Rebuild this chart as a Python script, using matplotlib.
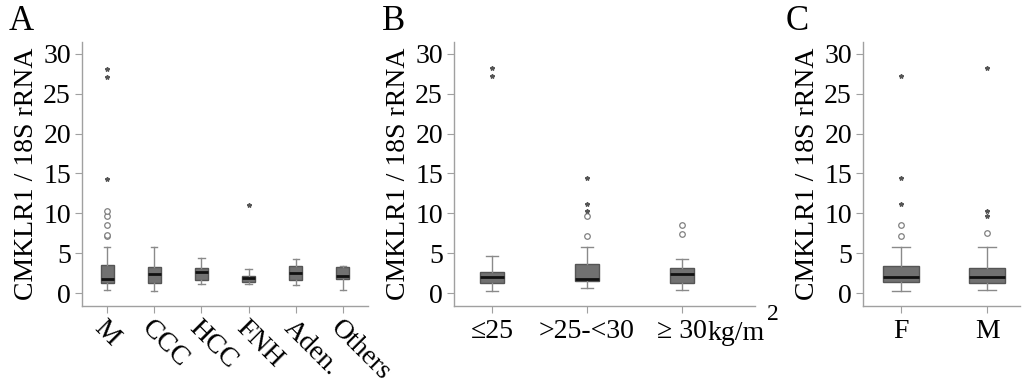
import matplotlib
matplotlib.use("Agg")
import matplotlib.pyplot as plt

plt.rcParams['font.family'] = ['Liberation Serif', 'DejaVu Serif']

# panel A: tumour type
a_labels = ['M', 'CCC', 'HCC', 'FNH', 'Aden.', 'Others']
a_low = [0.38, 0.25, 1.1, 1.1, 1.0, 0.33]
a_q1 = [1.3, 1.2, 1.6, 1.4, 1.6, 1.75]
a_med = [1.8, 2.35, 2.7, 1.85, 2.5, 2.15]
a_q3 = [3.5, 3.3, 3.2, 2.1, 3.4, 3.25]
a_high = [5.75, 5.75, 4.4, 3.0, 4.3, 3.45]
a_circ = [[7.1, 7.3, 8.5, 9.6, 10.3], [], [], [], [], []]
a_star = [[14.3, 27.1, 28.1], [], [], [11.1], [], []]

# panel B: BMI
b_labels = ['≤25', '>25-<30', '≥ 30']
b_low = [0.25, 0.6, 0.37]
b_q1 = [1.3, 1.45, 1.3]
b_med = [2.0, 1.75, 2.4]
b_q3 = [2.7, 3.6, 3.2]
b_high = [4.6, 5.75, 4.3]
b_circ = [[], [7.2, 9.6], [7.4, 8.5]]
b_star = [[27.2, 28.2], [10.3, 11.2, 14.4], []]

# panel C: sex
c_labels = ['F', 'M']
c_low = [0.25, 0.37]
c_q1 = [1.4, 1.25]
c_med = [1.95, 2.05]
c_q3 = [3.4, 3.2]
c_high = [5.75, 5.75]
c_circ = [[7.2, 8.5], [7.5]]
c_star = [[11.2, 14.4, 27.2], [9.6, 10.3, 28.2]]

W, H = 1024, 384
fig = plt.figure(figsize=(W / 100, H / 100), dpi=100)

spine_col = '#a0a0a0'
fs = 20


def panel(rect, labels, low, q1, med, q3, high, circ, star, width, xlim, letter, letter_x, rot=False):
    ax = fig.add_axes(rect)
    stats = []
    for i in range(len(labels)):
        stats.append({'whislo': low[i], 'q1': q1[i], 'med': med[i], 'q3': q3[i],
                      'whishi': high[i], 'fliers': []})
    pos = list(range(1, len(labels) + 1))
    ax.bxp(stats, positions=pos, widths=width, patch_artist=True, showfliers=False,
           boxprops=dict(facecolor='#717171', edgecolor='#555555', linewidth=1),
           medianprops=dict(color='#111111', linewidth=2),
           whiskerprops=dict(color='#8a8a8a', linewidth=1),
           capprops=dict(color='#8a8a8a', linewidth=1),
           capwidths=width * 0.5)
    for i, p in enumerate(pos):
        if circ[i]:
            ax.plot([p] * len(circ[i]), circ[i], 'o', ms=4, mfc='white',
                    mec='#808080', mew=0.9, ls='none')
        if star[i]:
            ax.plot([p] * len(star[i]), star[i], '*', ms=3.2, color='#555555', ls='none')
    ax.set_xlim(*xlim)
    ax.set_ylim(-1.63, 31.5)
    ax.set_yticks([0, 5, 10, 15, 20, 25, 30])
    ax.set_xticks(pos)
    if rot:
        ax.set_xticklabels(labels, rotation=-45, ha='left', va='top',
                           rotation_mode='anchor', fontsize=fs)
    else:
        ax.set_xticklabels(labels, fontsize=fs)
    ax.tick_params(axis='y', labelsize=fs, length=5, color=spine_col, pad=3)
    ax.tick_params(axis='x', length=5, color=spine_col, pad=4)
    for s in ['top', 'right']:
        ax.spines[s].set_visible(False)
    for s in ['left', 'bottom']:
        ax.spines[s].set_color(spine_col)
        ax.spines[s].set_linewidth(1)
    ax.set_ylabel('CMKLR1 / 18S rRNA', fontsize=fs, labelpad=3)
    fig.text(letter_x / W, 1 - 5 / H, letter, fontsize=25, va='top', ha='left')
    return ax


axA = panel([82 / W, 0.203, 286 / W, 0.688], a_labels, a_low, a_q1, a_med, a_q3, a_high,
            a_circ, a_star, 0.275, (0.47, 6.53), 'A', 9, rot=True)
axA.tick_params(axis='x', pad=2)

axB = panel([454 / W, 0.203, 301 / W, 0.688], b_labels, b_low, b_q1, b_med, b_q3, b_high,
            b_circ, b_star, 0.25, (0.6, 3.77), 'B', 382)
# unit label beside the last tick label, baseline level with it
axB.text(3.27, -5.9, 'kg/m', fontsize=fs, ha='left', va='baseline',
         transform=axB.transData, clip_on=False)
axB.text(3.96, -3.4, '2', fontsize=17, ha='center', va='baseline',
         transform=axB.transData, clip_on=False)

axC = panel([863 / W, 0.203, 157 / W, 0.688], c_labels, c_low, c_q1, c_med, c_q3, c_high,
            c_circ, c_star, 0.42, (0.56, 2.38), 'C', 786)

fig.savefig('out.png', dpi=100)
